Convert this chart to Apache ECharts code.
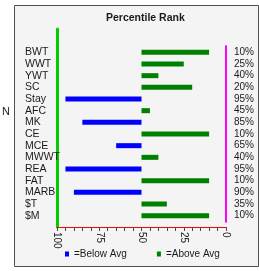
<!DOCTYPE html>
<html>
<head>
<meta charset="utf-8">
<script src="https://cdn.jsdelivr.net/npm/echarts@6/dist/echarts.min.js"></script>
<style>
html,body{margin:0;padding:0;background:#ffffff;}
#chart{width:259px;height:271px;}
</style>
</head>
<body>
<div id="chart"></div>
<script>
var categories = ['BWT','WWT','YWT','SC','Stay','AFC','MK','CE','MCE','MWWT','REA','FAT','MARB','$T','$M'];
var percentiles = [10,25,40,20,95,45,85,10,65,40,95,10,90,35,10];
var xTickLabels = ['100','95','90','85','80','75','70','65','60','55','50','45','40','35','30','25','20','15','10','5','0'];
var midline = 50;
var seriesNames = ['=Below Avg','=Above Avg'];

var FONT = '"Liberation Sans Narrow", "Liberation Sans", Arial, sans-serif';
var TXT = '#1a1a1a';
var AX = '#4a4a4a';

var baseVals = percentiles.map(function(v){ return v < midline ? v : midline; });
var belowVals = percentiles.map(function(v){ return v > midline ? v - midline : 0; });
var aboveVals = percentiles.map(function(v){ return v < midline ? midline - v : 0; });

var chart = echarts.init(document.getElementById('chart'), null, {renderer:'canvas'});
chart.setOption({
  animation:false,
  backgroundColor:'#ffffff',
  graphic:[
    {type:'rect', z:-10, silent:true, shape:{x:14.5,y:5.5,width:244,height:261}, style:{fill:'#f4f4f4', stroke:'#505050', lineWidth:1}},
    {type:'text', left:2, top:106, style:{text:'N', font:'11px ' + FONT, fill:'#222'}}
  ],
  title:{text:'Percentile Rank', left:106, top:13, padding:0,
    textStyle:{fontFamily:FONT, fontSize:10.5, fontWeight:'bold', color:TXT}},
  legend:{
    data:seriesNames, left:65, top:249, itemWidth:4, itemHeight:5, itemGap:30, icon:'rect',
    textStyle:{fontFamily:FONT, fontSize:10, color:TXT}, padding:0
  },
  grid:[
    {left:57, right:33, top:29, bottom:44},
    {left:57, right:33, top:46.5, bottom:49.5}
  ],
  xAxis:[
    {gridIndex:0, type:'category', data:xTickLabels, boundaryGap:false, position:'bottom',
      axisLine:{show:true, lineStyle:{color:'#ff0000', width:1}},
      axisTick:{show:true, interval:0, length:4, lineStyle:{color:AX}},
      splitLine:{show:false},
      axisLabel:{interval:4, rotate:-90, margin:5, fontFamily:FONT, fontSize:10, color:TXT}},
    {gridIndex:1, type:'value', min:0, max:100, inverse:true, show:false}
  ],
  yAxis:[
    {gridIndex:0, type:'value', min:0, max:1, position:'left',
      axisLine:{show:true, lineStyle:{color:'#00cc00', width:3}},
      axisTick:{show:false}, axisLabel:{show:false}, splitLine:{show:false}},
    {gridIndex:1, type:'category', data:categories, inverse:true,
      axisLine:{show:true, lineStyle:{color:'#0000ff', width:2}}, axisTick:{show:false},
      axisLabel:{align:'left', margin:32, fontFamily:FONT, fontSize:10.5, color:TXT, interval:0}},
    {gridIndex:1, type:'category', data:categories, inverse:true, position:'right',
      axisLine:{show:true, lineStyle:{color:'#ff00ff', width:2}}, axisTick:{show:false},
      axisLabel:{margin:8, fontFamily:FONT, fontSize:10, color:TXT, interval:0,
        formatter:function(v, i){ return percentiles[i] + '%'; }}}
  ],
  series:[
    {name:'base', type:'bar', stack:'p', xAxisIndex:1, yAxisIndex:1, data:baseVals, barWidth:5,
      itemStyle:{color:'rgba(0,0,0,0)'}},
    {name:seriesNames[0], type:'bar', stack:'p', xAxisIndex:1, yAxisIndex:1, data:belowVals, barWidth:5,
      itemStyle:{color:'#0000FF'}},
    {name:seriesNames[1], type:'bar', stack:'p', xAxisIndex:1, yAxisIndex:1, data:aboveVals, barWidth:5,
      itemStyle:{color:'#008000'}}
  ]
});
</script>
</body>
</html>
